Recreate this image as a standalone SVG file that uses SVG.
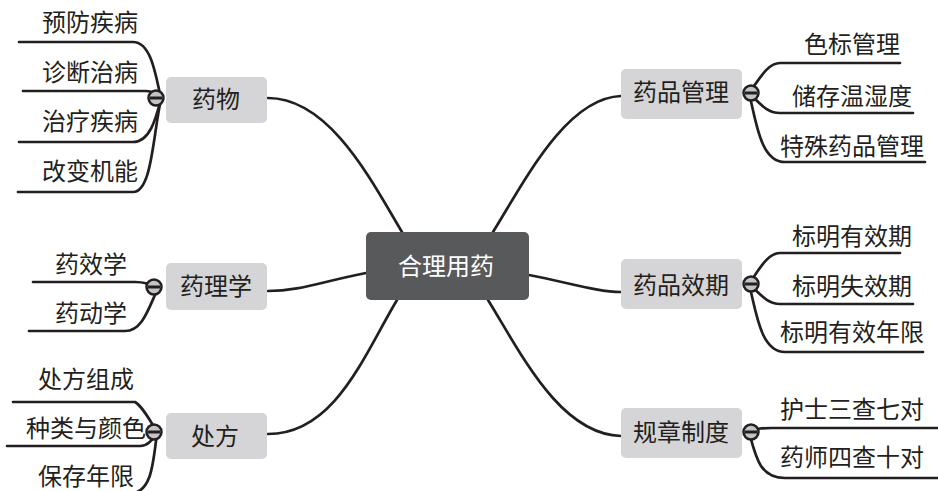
<svg xmlns="http://www.w3.org/2000/svg" width="938" height="491" viewBox="0 0 938 491">
<style>
.bg{fill:#ffffff}
.node rect{fill:#d5d5d7}
.root rect{fill:#58595b}
text{font-family:"Noto Sans CJK SC","Noto Sans CJK JP",sans-serif;font-size:24px;fill:#231f20;text-anchor:middle}
.root text{fill:#ffffff}
.links path{fill:none;stroke:#231f20;stroke-width:2.7;stroke-linecap:round}
.tog circle{fill:#c4c4c6;stroke:#231f20;stroke-width:2.5}
.tog line{stroke:#231f20;stroke-width:3}
</style>
<defs>
<g id="toggle" class="tog"><circle cx="0" cy="0" r="7.5"/><line x1="-6" y1="0" x2="6" y2="0"/></g>
</defs>
<rect class="bg" x="0" y="0" width="938" height="491"/>
<g id="connectors" class="links">
<path d="M402,232 C372,182 330,98 268,98"/>
<path d="M493,232 C524,182 566,98 621,96"/>
<path d="M366,273 C320,282 300,291 268,291"/>
<path d="M529,275 C570,283 598,292 621,292"/>
<path d="M397,300 C364,355 335,434 268,434"/>
<path d="M488,300 C522,355 560,434 621,436"/>
<path d="M19,42 H133 C150,42 155,70 161,99"/>
<path d="M23,91 H146 C152,91 157,94 161,99"/>
<path d="M19,142 H133 C150,142 156,118 161,99"/>
<path d="M18,192 H133 C152,192 153,135 161,99"/>
<path d="M33,282 H135 C145,282 151,284 158,288"/>
<path d="M29,331 H125 C142,331 148,310 158,288"/>
<path d="M13,402 H135 C142,406 150,420 157,432"/>
<path d="M7,446 H140 C148,446 153,440 157,432"/>
<path d="M157,432 C153,470 150,494 128,494 H10"/>
<path d="M749,93 C760,78 768,63 780,63 H900"/>
<path d="M749,93 C762,106 768,113 780,113 H913"/>
<path d="M749,93 C756,120 760,162 785,162 H925"/>
<path d="M749,284 C760,268 768,253 780,253 H900"/>
<path d="M749,284 C762,296 768,304 780,304 H913"/>
<path d="M749,284 C756,310 760,352 785,352 H923"/>
<path d="M749,432 C757,428 763,428 772,428 H938"/>
<path d="M749,432 C756,458 760,478 785,478 H938"/>
</g>
<g id="n-root" class="root"><rect x="366" y="232" width="163" height="68" rx="5"/><text x="446" y="275">合理用药</text></g>
<g id="n-yaowu" class="node"><rect x="166" y="77" width="101" height="46" rx="5"/><text x="216" y="108">药物</text><use href="#toggle" x="156" y="98"/></g>
<g id="n-yaolixue" class="node"><rect x="166" y="263" width="101" height="47" rx="5"/><text x="216" y="295">药理学</text><use href="#toggle" x="154" y="287"/></g>
<g id="n-chufang" class="node"><rect x="166" y="413" width="101" height="46" rx="5"/><text x="215" y="445">处方</text><use href="#toggle" x="154" y="432"/></g>
<g id="n-guanli" class="node"><rect x="621" y="69" width="121" height="50" rx="5"/><text x="681" y="101">药品管理</text><use href="#toggle" x="751" y="93"/></g>
<g id="n-xiaoqi" class="node"><rect x="621" y="259" width="121" height="50" rx="5"/><text x="681" y="294">药品效期</text><use href="#toggle" x="751" y="284"/></g>
<g id="n-zhidu" class="node"><rect x="621" y="408" width="121" height="50" rx="5"/><text x="681" y="441">规章制度</text><use href="#toggle" x="751" y="432"/></g>
<g id="leaf-1"><text x="90" y="31">预防疾病</text></g>
<g id="leaf-2"><text x="90" y="81">诊断治病</text></g>
<g id="leaf-3"><text x="90" y="130">治疗疾病</text></g>
<g id="leaf-4"><text x="90" y="180">改变机能</text></g>
<g id="leaf-5"><text x="91" y="273">药效学</text></g>
<g id="leaf-6"><text x="91" y="322">药动学</text></g>
<g id="leaf-7"><text x="86" y="388">处方组成</text></g>
<g id="leaf-8"><text x="86" y="437">种类与颜色</text></g>
<g id="leaf-9"><text x="86" y="485">保存年限</text></g>
<g id="leaf-10"><text x="852" y="53">色标管理</text></g>
<g id="leaf-11"><text x="852" y="105">储存温湿度</text></g>
<g id="leaf-12"><text x="852" y="155">特殊药品管理</text></g>
<g id="leaf-13"><text x="852" y="245">标明有效期</text></g>
<g id="leaf-14"><text x="852" y="295">标明失效期</text></g>
<g id="leaf-15"><text x="852" y="341">标明有效年限</text></g>
<g id="leaf-16"><text x="852" y="418">护士三查七对</text></g>
<g id="leaf-17"><text x="852" y="466">药师四查十对</text></g>
</svg>
